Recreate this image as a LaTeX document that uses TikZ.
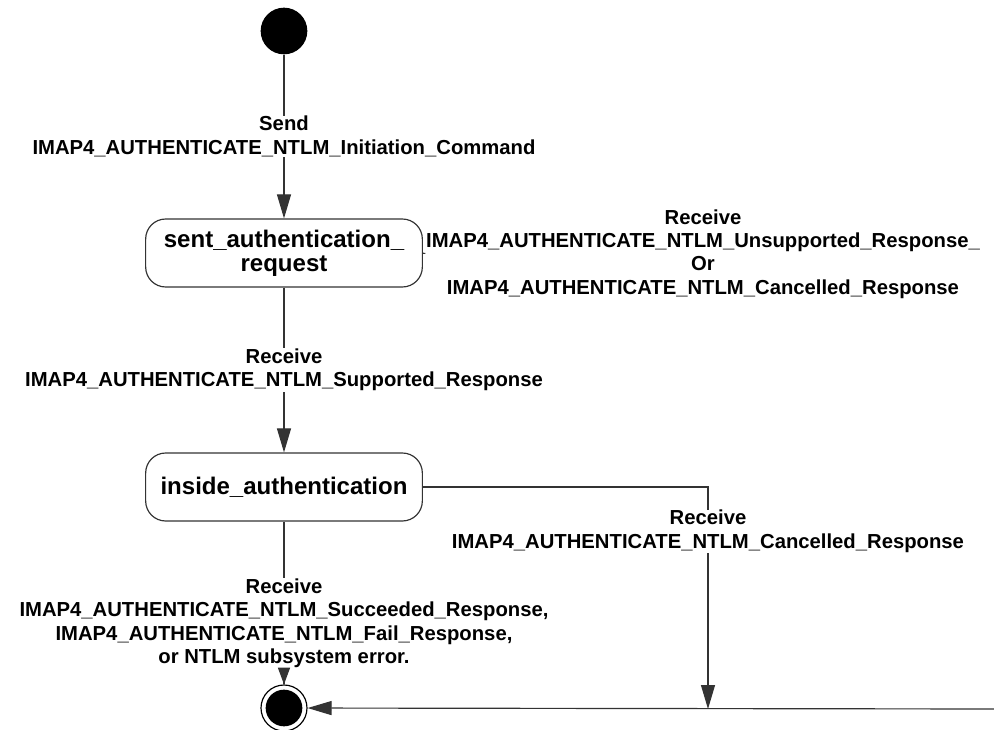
\documentclass[tikz,border=0pt]{standalone}
\usepackage{fontspec}
\setmainfont{Liberation Sans}
\usetikzlibrary{arrows.meta,positioning}
\newcommand\lblfont{\bfseries\fontsize{17.3}{20}\selectfont}
\newcommand\boxfont{\bfseries\fontsize{20.5}{20.5}\selectfont}

\begin{document}
\begin{tikzpicture}
 [
 x=0.03cm, y=-0.03cm,
 state/.style={
  rectangle,
  rounded corners=0.6cm,
  draw=black!80,
  line width=1pt, % border
  minimum width=8.3cm,
  minimum height=2.04cm,
  align=center,
  font=\boxfont},
 lbl/.style={fill=white, align=center, inner sep=0.5pt, font=\lblfont},
 line/.style={draw=black!80, line width=1pt},
 tip/.style={-{Triangle[length=0.72cm,width=0.42cm]}},
 smalltip/.style={-{Triangle[length=0.5cm,width=0.36cm]}}]
\useasboundingbox (0,0) rectangle (994,730);
\node (start) [circle, fill=black, minimum size=1.4cm, inner sep=0] at (284,31) {};
\node (sent) [state] at (284,253) {sent\_authentication\_\\request};
\node (inside) [state] at (284,487) {inside\_authentication};
\node (final) [circle, draw=black, line width=1pt, minimum size=1.38cm, inner sep=0] at (284,708) {};
\fill (final.center) circle (0.55cm);
\coordinate (join) at (708,709);
\coordinate (rightend) at (994,709);
\node (unsup) [lbl] at (703,254) {Receive\\IMAP4\_AUTHENTICATE\_NTLM\_Unsupported\_Response\_\\Or\\IMAP4\_AUTHENTICATE\_NTLM\_Cancelled\_Response};
\path (start) edge[line,tip] node[lbl] {Send\\IMAP4\_AUTHENTICATE\_NTLM\_Initiation\_Command} (sent);
\path (sent) edge[line,tip] node[lbl] {Receive\\IMAP4\_AUTHENTICATE\_NTLM\_Supported\_Response} (inside);
\path (inside) edge[line] node[lbl,pos=0.625] (fin) {Receive\\IMAP4\_AUTHENTICATE\_NTLM\_Succeeded\_Response,\\IMAP4\_AUTHENTICATE\_NTLM\_Fail\_Response,\\or NTLM subsystem error.} (final);
\draw[line,smalltip] (fin) -- (final);
\path (sent) edge[line] (unsup);
\draw[line,tip] (inside) -| node[lbl,pos=0.6] {Receive\\IMAP4\_AUTHENTICATE\_NTLM\_Cancelled\_Response} (join);
\draw[line,tip] (rightend) -- (final);
\end{tikzpicture}
\end{document}
